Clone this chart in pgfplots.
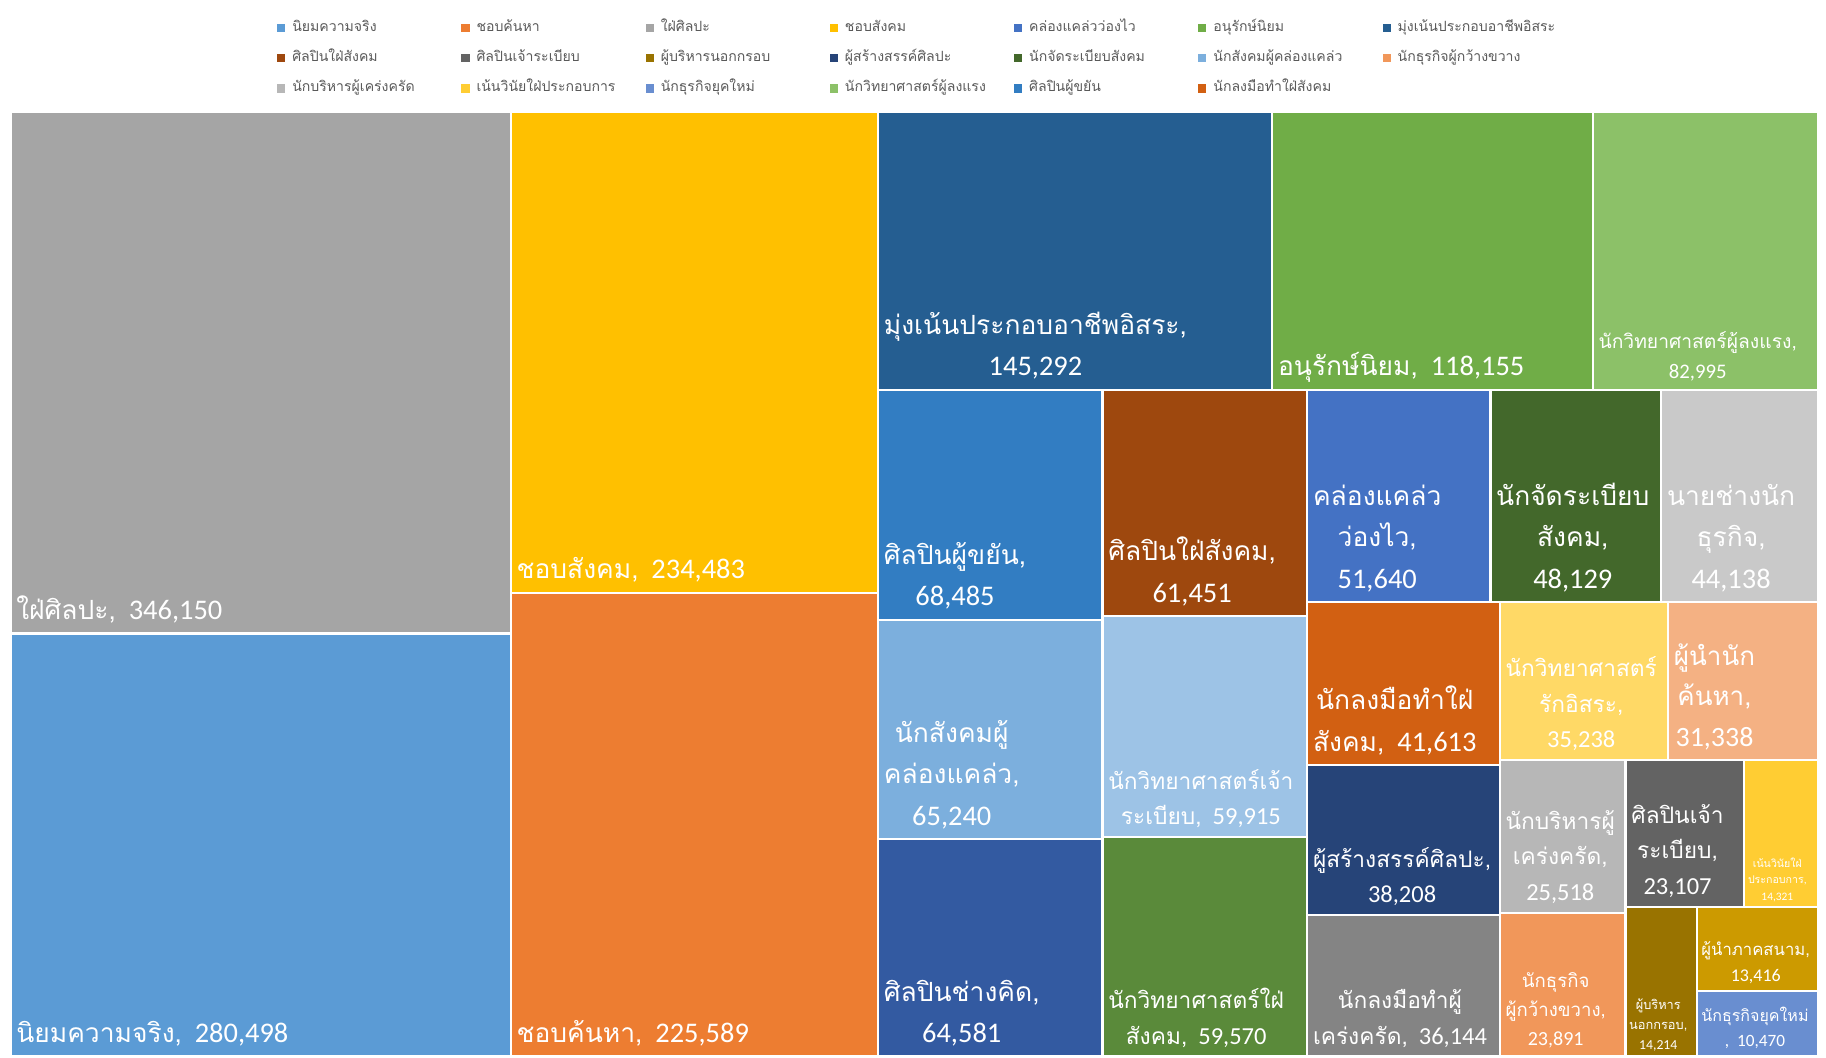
\documentclass[border=0pt]{standalone}
\usepackage{fontspec}
\usepackage{pgfplots}
\pgfplotsset{compat=1.18}
\setmainfont{Carlito}
\newfontfamily\thfont[Script=Thai, Scale=0.93]{Loma}
\newcommand{\T}[1]{{\thfont #1}}
\definecolor{legendgray}{HTML}{595959}
\definecolor{c01}{HTML}{A5A5A5}
\definecolor{c02}{HTML}{5B9BD5}
\definecolor{c03}{HTML}{FFC000}
\definecolor{c04}{HTML}{ED7D31}
\definecolor{c05}{HTML}{255E91}
\definecolor{c06}{HTML}{70AD47}
\definecolor{c07}{HTML}{8CC168}
\definecolor{c08}{HTML}{327DC2}
\definecolor{c09}{HTML}{7CAFDD}
\definecolor{c10}{HTML}{335AA1}
\definecolor{c11}{HTML}{9E480E}
\definecolor{c12}{HTML}{9DC3E6}
\definecolor{c13}{HTML}{5A8A3A}
\definecolor{c14}{HTML}{4472C4}
\definecolor{c15}{HTML}{43682B}
\definecolor{c16}{HTML}{C9C9C9}
\definecolor{c17}{HTML}{D26012}
\definecolor{c18}{HTML}{264478}
\definecolor{c19}{HTML}{848484}
\definecolor{c20}{HTML}{FFD966}
\definecolor{c21}{HTML}{F4B183}
\definecolor{c22}{HTML}{B7B7B7}
\definecolor{c23}{HTML}{F1975A}
\definecolor{c24}{HTML}{636363}
\definecolor{c25}{HTML}{FFCD33}
\definecolor{c26}{HTML}{997300}
\definecolor{c27}{HTML}{CC9A00}
\definecolor{c28}{HTML}{698ED0}
% label: x, y (bottom baseline), font size, baselineskip, text
\newcommand{\lab}[5]{\node[anchor=south west, inner sep=0pt, outer sep=0pt, text depth=0pt, align=center, text=white, font=\fontsize{#3}{#4}\selectfont] at (axis cs:#1,#2) {#5};}
\begin{document}
\begin{tikzpicture}
\begin{axis}[
  name=ax,
  scale only axis, width=784pt, height=454pt,
  xmin=-9, xmax=1559, ymin=-96, ymax=812, y dir=reverse,
  hide axis, clip=false,
  every axis plot/.append style={draw=white, line width=1pt},
  legend image code/.code={\path[#1, draw=none] (0pt,-1.75pt) rectangle (3.5pt,1.75pt);},
  legend columns=7,
  legend cell align=left,
  legend style={at={(axis cs:229,-78)}, anchor=north west, draw=none, fill=none,
    inner sep=0pt, outer sep=0pt,
    font=\fontsize{6.5}{8}\selectfont, text=legendgray,
    nodes={inner sep=0pt, text height=4.5pt, text depth=1.5pt},
    row sep=7pt,
    /tikz/every odd column/.append style={column sep=3pt}},
]
% ---- rectangles with legend (value in comment) ----
% นิยมความจริง 280498
\addplot[fill=c02] coordinates {(0,447.98) (429.61,447.98) (429.61,811) (0,811)} -- cycle;
\addlegendentry{\makebox[72.6pt][l]{\T{นิยมความจริง}}}
% ชอบค้นหา 225589
\addplot[fill=c04] coordinates {(429.61,413.34) (745.02,413.34) (745.02,811) (429.61,811)} -- cycle;
\addlegendentry{\makebox[72.6pt][l]{\T{ชอบค้นหา}}}
% ใฝ่ศิลปะ 346150
\addplot[fill=c01] coordinates {(0,0) (429.61,0) (429.61,447.98) (0,447.98)} -- cycle;
\addlegendentry{\makebox[72.6pt][l]{\T{ใฝ่ศิลปะ}}}
% ชอบสังคม 234483
\addplot[fill=c03] coordinates {(429.61,0) (745.02,0) (745.02,413.34) (429.61,413.34)} -- cycle;
\addlegendentry{\makebox[72.6pt][l]{\T{ชอบสังคม}}}
% คล่องแคล่วว่องไว 51640
\addplot[fill=c14] coordinates {(1113.46,238.70) (1270.83,238.70) (1270.83,421.15) (1113.46,421.15)} -- cycle;
\addlegendentry{\makebox[72.6pt][l]{\T{คล่องแคล่วว่องไว}}}
% อนุรักษ์นิยม 118155
\addplot[fill=c06] coordinates {(1083.46,0) (1358.68,0) (1358.68,238.70) (1083.46,238.70)} -- cycle;
\addlegendentry{\makebox[72.6pt][l]{\T{อนุรักษ์นิยม}}}
% มุ่งเน้นประกอบอาชีพอิสระ 145292
\addplot[fill=c05] coordinates {(745.02,0) (1083.46,0) (1083.46,238.70) (745.02,238.70)} -- cycle;
\addlegendentry{\makebox[72.6pt][l]{\T{มุ่งเน้นประกอบอาชีพอิสระ}}}
% ศิลปินใฝ่สังคม 61451
\addplot[fill=c11] coordinates {(937.68,238.70) (1113.46,238.70) (1113.46,433.07) (937.68,433.07)} -- cycle;
\addlegendentry{\makebox[72.6pt][l]{\T{ศิลปินใฝ่สังคม}}}
% ศิลปินเจ้าระเบียบ 23107
\addplot[fill=c24] coordinates {(1386.86,556.67) (1488.81,556.67) (1488.81,682.68) (1386.86,682.68)} -- cycle;
\addlegendentry{\makebox[72.6pt][l]{\T{ศิลปินเจ้าระเบียบ}}}
% ผู้บริหารนอกกรอบ 14214
\addplot[fill=c26] coordinates {(1386.86,682.68) (1448.45,682.68) (1448.45,811) (1386.86,811)} -- cycle;
\addlegendentry{\makebox[72.6pt][l]{\T{ผู้บริหารนอกกรอบ}}}
% ผู้สร้างสรรค์ศิลปะ 38208
\addplot[fill=c18] coordinates {(1113.46,561.04) (1278.85,561.04) (1278.85,689.49) (1113.46,689.49)} -- cycle;
\addlegendentry{\makebox[72.6pt][l]{\T{ผู้สร้างสรรค์ศิลปะ}}}
% นักจัดระเบียบสังคม 48129
\addplot[fill=c15] coordinates {(1270.83,238.70) (1417.50,238.70) (1417.50,421.15) (1270.83,421.15)} -- cycle;
\addlegendentry{\makebox[72.6pt][l]{\T{นักจัดระเบียบสังคม}}}
% นักสังคมผู้คล่องแคล่ว 65240
\addplot[fill=c09] coordinates {(745.02,436.34) (937.68,436.34) (937.68,624.62) (745.02,624.62)} -- cycle;
\addlegendentry{\makebox[72.6pt][l]{\T{นักสังคมผู้คล่องแคล่ว}}}
% นักธุรกิจผู้กว้างขวาง 23891
\addplot[fill=c23] coordinates {(1278.85,688.02) (1386.86,688.02) (1386.86,811) (1278.85,811)} -- cycle;
\addlegendentry{\makebox[72.6pt][l]{\T{นักธุรกิจผู้กว้างขวาง}}}
% นักบริหารผู้เคร่งครัด 25518
\addplot[fill=c22] coordinates {(1278.85,556.67) (1386.86,556.67) (1386.86,688.02) (1278.85,688.02)} -- cycle;
\addlegendentry{\makebox[72.6pt][l]{\T{นักบริหารผู้เคร่งครัด}}}
% เน้นวินัยใฝ่ประกอบการ 14321
\addplot[fill=c25] coordinates {(1488.81,556.67) (1552,556.67) (1552,682.68) (1488.81,682.68)} -- cycle;
\addlegendentry{\makebox[72.6pt][l]{\T{เน้นวินัยใฝ่ประกอบการ}}}
% นักธุรกิจยุคใหม่ 10470
\addplot[fill=c28] coordinates {(1448.45,754.75) (1552,754.75) (1552,811) (1448.45,811)} -- cycle;
\addlegendentry{\makebox[72.6pt][l]{\T{นักธุรกิจยุคใหม่}}}
% นักวิทยาศาสตร์ผู้ลงแรง 82995
\addplot[fill=c07] coordinates {(1358.68,0) (1552,0) (1552,238.70) (1358.68,238.70)} -- cycle;
\addlegendentry{\makebox[72.6pt][l]{\T{นักวิทยาศาสตร์ผู้ลงแรง}}}
% ศิลปินผู้ขยัน 68485
\addplot[fill=c08] coordinates {(745.02,238.70) (937.68,238.70) (937.68,436.34) (745.02,436.34)} -- cycle;
\addlegendentry{\makebox[72.6pt][l]{\T{ศิลปินผู้ขยัน}}}
% นักลงมือทำใฝ่สังคม 41613
\addplot[fill=c17] coordinates {(1113.46,421.15) (1278.85,421.15) (1278.85,561.04) (1113.46,561.04)} -- cycle;
\addlegendentry{\makebox[72.6pt][l]{\T{นักลงมือทำใฝ่สังคม}}}
% ---- rectangles without legend entry ----
% ศิลปินช่างคิด 64581
\addplot[fill=c10, forget plot] coordinates {(745.02,624.62) (937.68,624.62) (937.68,811) (745.02,811)} -- cycle;
% นักวิทยาศาสตร์เจ้าระเบียบ 59915
\addplot[fill=c12, forget plot] coordinates {(937.68,433.07) (1113.46,433.07) (1113.46,622.58) (937.68,622.58)} -- cycle;
% นักวิทยาศาสตร์ใฝ่สังคม 59570
\addplot[fill=c13, forget plot] coordinates {(937.68,622.58) (1113.46,622.58) (1113.46,811) (937.68,811)} -- cycle;
% นายช่างนักธุรกิจ 44138
\addplot[fill=c16, forget plot] coordinates {(1417.50,238.70) (1552,238.70) (1552,421.15) (1417.50,421.15)} -- cycle;
% นักลงมือทำผู้เคร่งครัด 36144
\addplot[fill=c19, forget plot] coordinates {(1113.46,689.49) (1278.85,689.49) (1278.85,811) (1113.46,811)} -- cycle;
% นักวิทยาศาสตร์รักอิสระ 35238
\addplot[fill=c20, forget plot] coordinates {(1278.85,421.15) (1423.43,421.15) (1423.43,556.67) (1278.85,556.67)} -- cycle;
% ผู้นำนักค้นหา 31338
\addplot[fill=c21, forget plot] coordinates {(1423.43,421.15) (1552,421.15) (1552,556.67) (1423.43,556.67)} -- cycle;
% ผู้นำภาคสนาม 13416
\addplot[fill=c27, forget plot] coordinates {(1448.45,682.68) (1552,682.68) (1552,754.75) (1448.45,754.75)} -- cycle;
% ---- labels ----
\lab{5}{436}{12.2}{17.7}{\T{ใฝ่ศิลปะ,}\ \ 346,150}
\lab{5}{799}{12.2}{17.7}{\T{นิยมความจริง,}\ \ 280,498}
\lab{434.6}{401}{12.2}{17.7}{\T{ชอบสังคม,}\ \ 234,483}
\lab{434.6}{799}{12.2}{17.7}{\T{ชอบค้นหา,}\ \ 225,589}
\lab{750}{226.7}{12.2}{17.7}{\T{มุ่งเน้นประกอบอาชีพอิสระ,}\\145,292}
\lab{1088.5}{226.7}{12.2}{17.7}{\T{อนุรักษ์นิยม,}\ \ 118,155}
\lab{1363.7}{229}{8.9}{13}{\T{นักวิทยาศาสตร์ผู้ลงแรง,}\\82,995}
\lab{750}{424}{12.2}{17.7}{\T{ศิลปินผู้ขยัน,}\\68,485}
\lab{750}{612.6}{12.2}{17.7}{\T{นักสังคมผู้}\\\T{คล่องแคล่ว,}\\65,240}
\lab{750}{799}{12.2}{17.7}{\T{ศิลปินช่างคิด,}\\64,581}
\lab{942.7}{421}{12.2}{17.7}{\T{ศิลปินใฝ่สังคม,}\\61,451}
\lab{942.7}{612}{10.5}{15.2}{\T{นักวิทยาศาสตร์เจ้า}\\\T{ระเบียบ,}\ \ 59,915}
\lab{942.7}{800.5}{10.5}{15.2}{\T{นักวิทยาศาสตร์ใฝ่}\\\T{สังคม,}\ \ 59,570}
\lab{1118.5}{409}{12.2}{17.7}{\T{คล่องแคล่ว}\\\T{ว่องไว,}\\51,640}
\lab{1275.8}{409}{12.2}{17.7}{\T{นักจัดระเบียบ}\\\T{สังคม,}\\48,129}
\lab{1422.5}{409}{12.2}{17.7}{\T{นายช่างนัก}\\\T{ธุรกิจ,}\\44,138}
\lab{1118.5}{549}{12.2}{17.7}{\T{นักลงมือทำใฝ่}\\\T{สังคม,}\ \ 41,613}
\lab{1118.5}{679}{10.5}{15.2}{\T{ผู้สร้างสรรค์ศิลปะ,}\\38,208}
\lab{1118.5}{800.5}{10.5}{15.2}{\T{นักลงมือทำผู้}\\\T{เคร่งครัด,}\ \ 36,144}
\lab{1283.9}{546}{10.5}{15.2}{\T{นักวิทยาศาสตร์}\\\T{รักอิสระ,}\\35,238}
\lab{1428.4}{545}{12}{17.4}{\T{ผู้นำนัก}\\\T{ค้นหา,}\\31,338}
\lab{1283.9}{677}{10.5}{15.2}{\T{นักบริหารผู้}\\\T{เคร่งครัด,}\\25,518}
\lab{1283.9}{802}{8.6}{12.5}{\T{นักธุรกิจ}\\\T{ผู้กว้างขวาง,}\\23,891}
\lab{1391.9}{672}{10.5}{15.2}{\T{ศิลปินเจ้า}\\\T{ระเบียบ,}\\23,107}
\lab{1492}{677}{4.9}{7.1}{\T{เน้นวินัยใฝ่}\\\T{ประกอบการ,}\\14,321}
\lab{1390}{805}{5.9}{8.6}{\T{ผู้บริหาร}\\\T{นอกกรอบ,}\\14,214}
\lab{1452}{747}{7.7}{11.2}{\T{ผู้นำภาคสนาม,}\\13,416}
\lab{1452}{803}{7.4}{10.8}{\T{นักธุรกิจยุคใหม่}\\,\ \ 10,470}
\end{axis}
\pgfresetboundingbox
\useasboundingbox (ax.south west) rectangle (ax.north east);
\end{tikzpicture}
\end{document}
